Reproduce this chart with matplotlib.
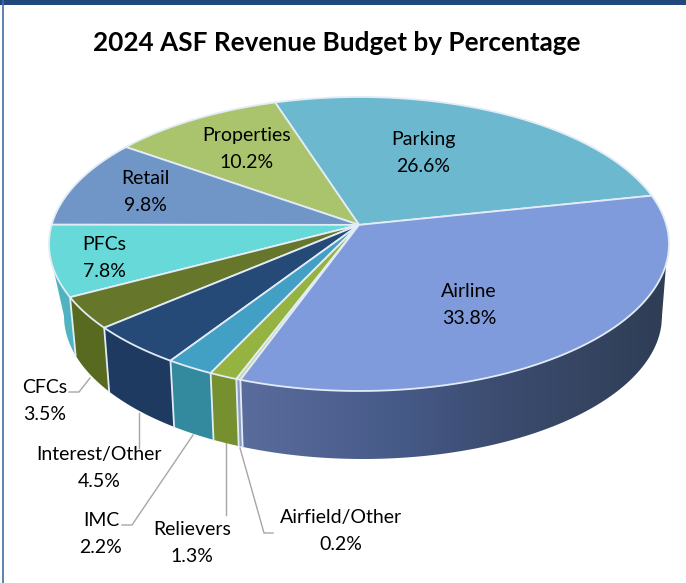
import numpy as np
import matplotlib.pyplot as plt
from matplotlib.colors import to_rgb
from matplotlib.patches import Polygon

title = "2024 ASF Revenue Budget by Percentage"
names = ["Parking", "Properties", "Retail", "PFCs", "CFCs", "Interest/Other", "IMC", "Relievers", "Airfield/Other", "Airline"]
values = [26.6, 10.2, 9.8, 7.8, 3.5, 4.5, 2.2, 1.3, 0.2, 33.8]

top_colors = ["#6bb8cf", "#a9c46c", "#7096c8", "#66d9d8", "#66762a", "#264a78", "#41a0c4", "#94b340", "#c9d6a0", "#7f9bdb"]
side_colors = ["#4a8a9c", "#7f9450", "#54709a", "#50b4c0", "#586a20", "#1f3a60", "#338a9e", "#768f2f", "#8b9cc4", "#586a9a"]

label_xy = [(423, 153), (247, 149), (145, 192), (104, 258), (45, 401), (99, 468), (101, 534), (192, 543), (341, 531), (469, 305)]

# pie geometry in pixels
cx, cy, a, b = 359, 244, 310, 147
cx2, cy2, a2, b2 = 363, 316, 299, 143
k = 0.13  # hub sits above the ellipse centre (perspective)
start_angle = 12


def rim_top(theta):
    s = np.sin(np.radians(theta))
    c = np.cos(np.radians(theta))
    d = 1 + k * s
    return cx + a * c * np.sqrt(1 - k ** 2) / d, cy - b * (s + k) / d


def rim_bottom(theta):
    # wall edges are nearly vertical, so follow the top rim in x
    xt, _ = rim_top(theta)
    xb = np.clip(xt + 6 * (cx - xt) / 309, cx2 - a2, cx2 + a2)
    u = (xb - cx2) / a2
    return xb, cy2 + b2 * np.sqrt(1 - u ** 2)


fig = plt.figure(figsize=(6.86, 5.83), dpi=100)
ax = fig.add_axes([0, 0, 1, 1])
plt.rcParams["font.family"] = ["Lato", "DejaVu Sans"]

edges = start_angle + np.concatenate([[0], np.cumsum(values)]) / np.sum(values) * 360
line_col = "#e2ecf6"

# side wall, only the part that is seen from the front
for i in range(len(values)):
    t0, t1 = max(edges[i], 190), min(edges[i + 1], 356)
    if t1 <= t0:
        continue
    th = np.linspace(t0, t1, 80)
    xt, yt = rim_top(th)
    xb, yb = rim_bottom(th)
    wall_x, wall_y = np.r_[xt, xb[::-1]], np.r_[yt, yb[::-1]]
    if names[i] == "Airline":
        # gradient along the wall, left to right
        stops_x = [240, 400, 500, 660]
        stops_c = np.array([to_rgb(c) for c in ["#5a6c9c", "#465a88", "#3c4c70", "#2f3e55"]])
        px = np.arange(230, 680)
        grad = np.stack([np.interp(px, stops_x, stops_c[:, j]) for j in range(3)], axis=-1)[None, :, :]
        im = ax.imshow(grad, extent=(230, 680, 470, 190), aspect="auto", zorder=2)
        im.set_clip_path(Polygon(np.c_[wall_x, wall_y], transform=ax.transData))
    else:
        ax.fill(wall_x, wall_y, color=side_colors[i], lw=0, zorder=2)
    if 190 < edges[i] < 356:
        xt, yt = rim_top(edges[i])
        xb, yb = rim_bottom(edges[i])
        ax.plot([xt, xb], [yt, yb], color=line_col, lw=1.3, zorder=3)

# top surface
hub = (cx, cy - b * k)
for i in range(len(values)):
    th = np.linspace(edges[i], edges[i + 1], 80)
    x, y = rim_top(th)
    ax.fill(np.r_[hub[0], x], np.r_[hub[1], y], facecolor=top_colors[i], edgecolor=line_col, lw=1.3, joinstyle="round", zorder=4)

# leader lines
leaders = [
    ([69, 79, 90], [392, 392, 378]),
    ([139, 139], [413, 448]),
    ([122, 132, 193], [525, 525, 435]),
    ([226, 226], [443, 515]),
    ([273, 264, 240], [533, 533, 448]),
]
for lx, ly in leaders:
    ax.plot(lx, ly, color="#a6a6a6", lw=1, zorder=1)

for name, val, (tx, ty) in zip(names, values, label_xy):
    ax.text(tx, ty, f"{name}\n{val:.1f}%", ha="center", va="center", fontsize=14, color="black", linespacing=1.66, zorder=6)

ax.text(337, 43, title, ha="center", va="center", fontsize=18.8, fontweight="bold", color="black")

# page frame
ax.fill([0, 686, 686, 0], [0, 0, 5, 5], color="#1f497d", lw=0)
ax.plot([3, 3], [0, 583], color="#3f6ea5", lw=1.2)

ax.set_xlim(0, 686)
ax.set_ylim(583, 0)
ax.axis("off")

fig.savefig("out.png", dpi=100)
